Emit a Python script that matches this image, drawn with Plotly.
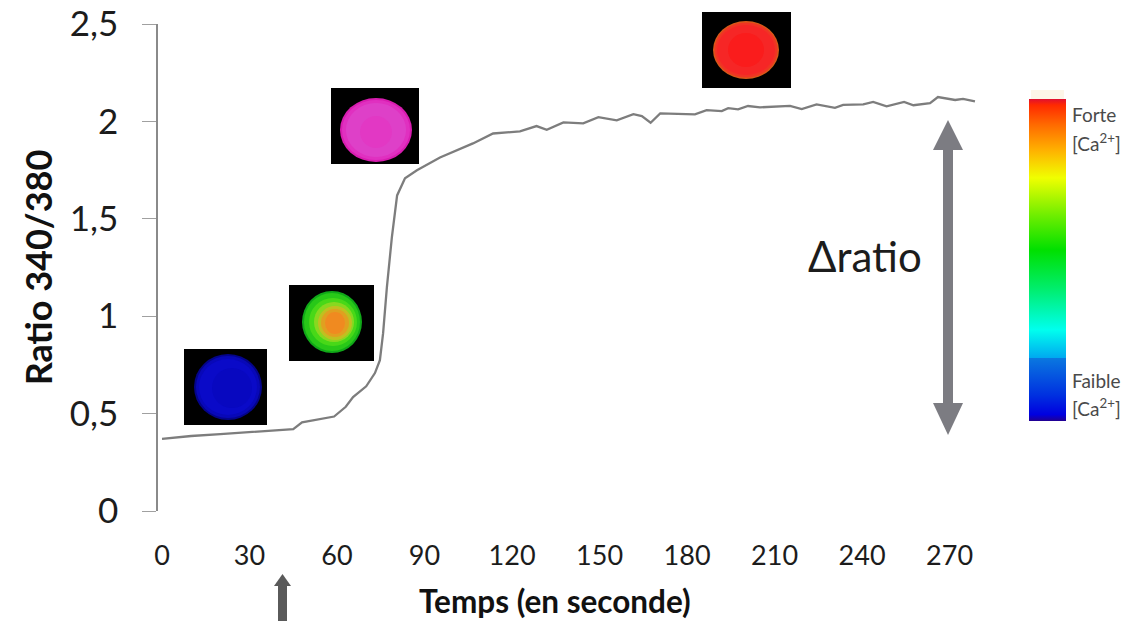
import plotly.graph_objects as go

W, H = 1145, 621

# ---- data ----
time_s = [0, 10, 20, 30, 38, 45, 48, 54, 59, 63, 65.5, 70, 73, 74.7, 75.8, 77.1, 78.8, 80.6, 83.3, 87.4, 95.3,
          106.6, 113.5, 122.7, 128.4, 131.9, 137.6, 144.4, 149.6, 155.9, 161.6, 164.5, 167.5, 170.8, 176, 182.7,
          186.7, 191.9, 194.1, 197.5, 200.9, 205, 215.3, 219.3, 224.4, 230.7, 233.5, 240.4, 243.8,
          248.4, 254.4, 257.6, 263.3, 266, 271.9, 274.6, 278.7]
ratio = [0.37, 0.385, 0.395, 0.405, 0.41, 0.42, 0.455, 0.47, 0.485, 0.535, 0.585, 0.64, 0.708, 0.774, 0.913, 1.149,
         1.405, 1.62, 1.708, 1.749, 1.815,
         1.887, 1.938, 1.949, 1.976, 1.957, 1.995, 1.99, 2.022, 2.005, 2.037, 2.027, 1.993, 2.041, 2.038, 2.036,
         2.058, 2.053, 2.068, 2.062, 2.079, 2.072, 2.08, 2.063, 2.087, 2.07, 2.085, 2.087, 2.1,
         2.077, 2.1, 2.083, 2.094, 2.125, 2.11, 2.116, 2.103]
x_ticks = [0, 30, 60, 90, 120, 150, 180, 210, 240, 270]
y_ticks = [0, 0.5, 1, 1.5, 2, 2.5]
y_labels = ["0", "0,5", "1", "1,5", "2", "2,5"]

colour_positions = [0, 0.02, 0.08, 0.196, 0.197, 0.283, 0.407, 0.531, 0.64, 0.755, 0.842, 0.92, 0.981, 1]
colour_values = ["#220090", "#0000e0", "#0030e0", "#0a78e0", "#00aaf0", "#00ffee", "#00ee70", "#00e000",
                 "#70ee00", "#f0ff00", "#ffb000", "#ff6a00", "#ff2a00", "#e01030"]

# ---- helpers: reference pixels to paper fractions ----
def px(v): return v / W
def py(v): return 1 - v / H

def rect(x0, y0, x1, y1, color):
    return dict(type="rect", xref="paper", yref="paper", x0=px(x0), x1=px(x1), y0=py(y1), y1=py(y0),
                fillcolor=color, line_width=0)

def oval(cx, cy, rx, ry, color):
    return dict(type="circle", xref="paper", yref="paper", x0=px(cx - rx), x1=px(cx + rx),
                y0=py(cy + ry), y1=py(cy - ry), fillcolor=color, line_width=0)

def poly(points, color):
    d = "M " + " L ".join(f"{px(a):.5f},{py(b):.5f}" for a, b in points) + " Z"
    return dict(type="path", xref="paper", yref="paper", path=d, fillcolor=color, line_width=0)

shapes = []
# cell insets: a black square with soft concentric ovals
shapes += [rect(184, 349, 267, 425, "#000000"),
           oval(228, 387, 34, 33, "#04048a"), oval(228, 387, 32, 31, "#0808b8"), oval(228, 387, 29, 28, "#0a0ac8"),
           oval(232, 388, 20, 20, "#0808c0")]
shapes += [rect(289, 285, 374, 361, "#000000"),
           oval(332, 322, 30, 31, "#10a818"), oval(332, 322, 28, 29, "#28c818"), oval(333, 322, 24, 24, "#48d818"),
           oval(334, 322, 20, 20, "#88d820"), oval(335, 323, 17, 17, "#c0c020"), oval(335, 323, 14, 14, "#e0a020"),
           oval(335, 323, 10, 11, "#f08a20")]
shapes += [rect(331, 88, 419, 164, "#000000"),
           oval(376, 130, 36, 32, "#d81cb0"), oval(376, 130, 34, 30, "#e030c0"), oval(376, 130, 30, 27, "#de40c8"),
           oval(376, 132, 16, 16, "#e238c4")]
shapes += [rect(702, 12, 791, 88, "#000000"),
           oval(746, 50, 33, 29, "#d85818"), oval(746, 50, 31.5, 27.5, "#f03424"), oval(746, 50, 29, 25, "#f62626"),
           oval(746, 50, 18, 17, "#fa1c1c")]
# colour-scale cap
shapes += [rect(1031, 90, 1064, 99, "#fdf6e8")]
# Δratio double arrow
arrow_grey = "#7c7c82"
shapes += [rect(943, 149, 953, 404, arrow_grey),
           poly([(948, 120), (963, 150), (933, 150)], arrow_grey),
           poly([(948, 435), (963, 403), (933, 403)], arrow_grey)]
# stimulus arrow under the axis
shapes += [rect(278, 584, 287, 621, "#5a5a5a"),
           poly([(282.5, 574), (291, 586), (274, 586)], "#5a5a5a")]

fig = go.Figure()
fig.add_trace(go.Scatter(x=time_s, y=ratio, mode="lines", line=dict(color="#7d7d7d", width=2.3),
                         showlegend=False, hoverinfo="skip"))
# empty-position trace that only carries the native colour bar
fig.add_trace(go.Scatter(x=[None, None], y=[None, None], mode="markers", showlegend=False, hoverinfo="skip",
                         marker=dict(color=[0, 1], cmin=0, cmax=1,
                                     colorscale=[[p, c] for p, c in zip(colour_positions, colour_values)],
                                     showscale=True,
                                     colorbar=dict(x=px(1029), xanchor="left", xpad=0, ypad=0,
                                                   y=py(421), yanchor="bottom",
                                                   lenmode="pixels", len=322,
                                                   thicknessmode="pixels", thickness=37,
                                                   outlinewidth=0, borderwidth=0,
                                                   showticklabels=False, ticks=""))))

FONT = "Lato, Carlito, sans-serif"
def note(x, y, text, size, color="#1c1c1c", anchor="center"):
    return dict(xref="paper", yref="paper", x=px(x), y=py(y), text=text, showarrow=False,
                xanchor=anchor, yanchor="middle", font=dict(family=FONT, size=size, color=color))

annotations = [
    note(865, 256, "Δratio", 42),
    note(555, 601, "<b>Temps (en seconde)</b>", 31.5, "#111111"),
    note(1070, 115, "Forte", 19, "#4a4a4a", "left"),
    note(1070, 142, "[Ca<sup>2+</sup>]", 19, "#4a4a4a", "left"),
    note(1070, 380, "Faible", 19, "#4a4a4a", "left"),
    note(1070, 407, "[Ca<sup>2+</sup>]", 19, "#4a4a4a", "left"),
]

fig.update_layout(
    width=W, height=H, autosize=False,
    margin=dict(l=0, r=0, t=0, b=0, pad=0, autoexpand=False),
    paper_bgcolor="white", plot_bgcolor="white",
    font=dict(family=FONT, color="#1c1c1c"),
    shapes=shapes, annotations=annotations,
    xaxis=dict(domain=[px(158), px(1000)], range=[(158 - 162) / 2.917, (1000 - 162) / 2.917],
               tickmode="array", tickvals=x_ticks, ticktext=[str(t) for t in x_ticks],
               showgrid=False, zeroline=False, showline=False, ticks="",
               ticklabelstandoff=26, tickfont=dict(size=27)),
    yaxis=dict(domain=[py(511), py(24)], range=[0, 2.5],
               tickmode="array", tickvals=y_ticks, ticktext=y_labels,
               showgrid=False, zeroline=False, showline=True, linecolor="#8a8a8a", linewidth=1.5,
               ticks="outside", ticklen=14, tickwidth=1.2, tickcolor="#a0a0a0",
               ticklabelstandoff=17, tickfont=dict(size=35),
               title=dict(text="<b>Ratio 340/380</b>", font=dict(size=36, color="#111111"), standoff=6)),
)

fig.write_html("out.html", config={"displayModeBar": False},
               post_script="document.body.style.margin='0';document.body.style.overflow='hidden';")
